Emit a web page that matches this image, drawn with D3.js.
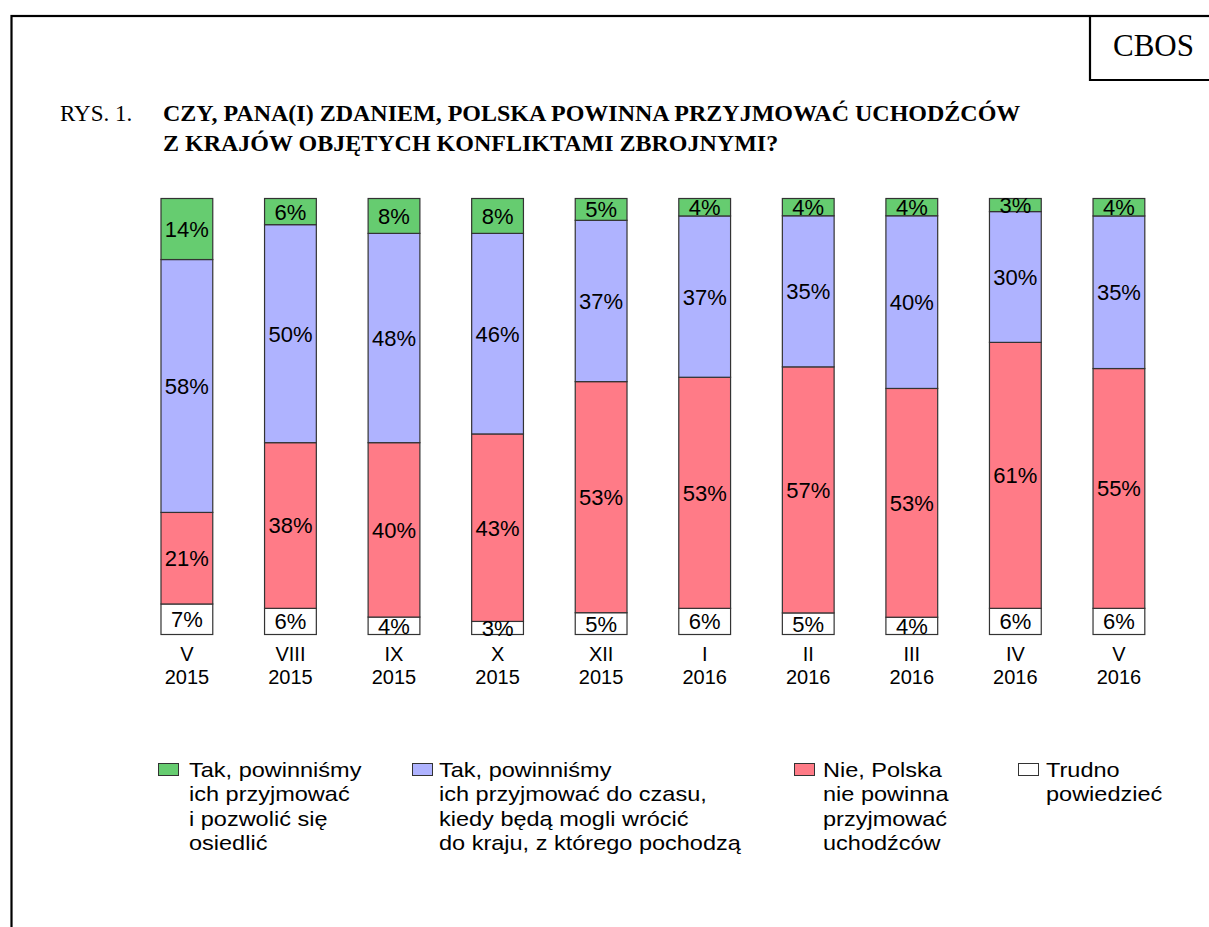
<!DOCTYPE html>
<html><head><meta charset="utf-8">
<script src="https://cdn.jsdelivr.net/npm/d3@7"></script>
<style>body{margin:0;background:#fff}svg{display:block}</style>
</head><body>
<svg id="chart" width="1209" height="927"></svg>
<script>
const months = ["V","VIII","IX","X","XII","I","II","III","IV","V"];
const years = ["2015","2015","2015","2015","2015","2016","2016","2016","2016","2016"];
const takOsiedlic = [14,6,8,8,5,4,4,4,3,4];
const takDoCzasu = [58,50,48,46,37,37,35,40,30,35];
const nie = [21,38,40,43,53,53,57,53,61,55];
const trudno = [7,6,4,3,5,6,5,4,6,6];
const seriesKeys = ["trudno","nie","doCzasu","osiedlic"];
const seriesColors = {osiedlic:"#66CC70", doCzasu:"#AFB3FF", nie:"#FF7B87", trudno:"#FFFFFF"};
const legendItems = [
  {key:"osiedlic", lines:["Tak, powinniśmy","ich przyjmować","i pozwolić się","osiedlić"]},
  {key:"doCzasu", lines:["Tak, powinniśmy","ich przyjmować do czasu,","kiedy będą mogli wrócić","do kraju, z którego pochodzą"]},
  {key:"nie", lines:["Nie, Polska","nie powinna","przyjmować","uchodźców"]},
  {key:"trudno", lines:["Trudno","powiedzieć"]}
];

const rows = months.map((m,i)=>({id:i, month:m, year:years[i],
  osiedlic:takOsiedlic[i], doCzasu:takDoCzasu[i], nie:nie[i], trudno:trudno[i]}));

const svg = d3.select("#chart");
const sans = "Arial, 'Liberation Sans', Helvetica, sans-serif";
const serif = "'Times New Roman', 'Liberation Serif', Times, serif";

// frame
svg.append("rect").attr("x",11.5).attr("y",16).attr("width",1230).attr("height",940)
  .attr("fill","none").attr("stroke","#000").attr("stroke-width",2.2);
svg.append("path").attr("d","M1090,16V80H1230").attr("fill","none").attr("stroke","#000").attr("stroke-width",2.2);
svg.append("text").attr("x",1153.5).attr("y",56).attr("text-anchor","middle")
  .attr("font-family",serif).attr("font-size",31).text("CBOS");

// title
svg.append("text").attr("x",60).attr("y",121).attr("font-family",serif).attr("font-size",23).text("RYS. 1.");
const tt = svg.append("text").attr("font-family",serif).attr("font-size",24).attr("font-weight","bold");
tt.append("tspan").attr("x",163).attr("y",121).text("CZY, PANA(I) ZDANIEM, POLSKA POWINNA PRZYJMOWAĆ UCHODŹCÓW");
tt.append("tspan").attr("x",163).attr("y",151).text("Z KRAJÓW OBJĘTYCH KONFLIKTAMI ZBROJNYMI?");

const x = d3.scaleBand().domain(rows.map(d=>d.id)).range([135.1,1170.7]).paddingInner(0.5).paddingOuter(0.25);
const y = d3.scaleLinear().domain([0,1]).range([634.5,198.5]);

const stack = d3.stack().keys(seriesKeys).offset(d3.stackOffsetExpand);
const stacked = stack(rows);

const g = svg.append("g");
stacked.forEach(s=>{
  const gs = g.append("g");
  gs.selectAll("rect").data(s).join("rect")
    .attr("x",d=>x(d.data.id)).attr("width",x.bandwidth())
    .attr("y",d=>y(d[1])).attr("height",d=>y(d[0])-y(d[1]))
    .attr("fill",seriesColors[s.key]).attr("stroke","#333").attr("stroke-width",1.2);
});
stacked.forEach(s=>{
  g.append("g").selectAll("text").data(s).join("text")
    .attr("x",d=>x(d.data.id)+x.bandwidth()/2)
    .attr("y",d=>(y(d[0])+y(d[1]))/2)
    .attr("dy","0.36em").attr("text-anchor","middle")
    .attr("font-family",sans).attr("font-size",22).attr("fill","#000")
    .text(d=>d.data[s.key]+"%");
});

// category labels via axis
const axis = d3.axisBottom(x).tickSize(0).tickPadding(0).tickFormat(()=> "");
const ax = svg.append("g").attr("transform","translate(0,634.5)").call(axis);
ax.select(".domain").remove();
ax.selectAll(".tick").each(function(id){
  const t = d3.select(this).append("text").attr("fill","#000").attr("font-family",sans).attr("font-size",20).attr("text-anchor","middle");
  t.append("tspan").attr("x",0).attr("y",26.5).text(rows[id].month);
  t.append("tspan").attr("x",0).attr("y",49.5).text(rows[id].year);
});

// legend
const legPos = [{sx:158,tx:189},{sx:412,tx:439},{sx:794,tx:823},{sx:1018,tx:1046}];
const lg = svg.append("g");
legendItems.forEach((it,i)=>{
  const p = legPos[i];
  lg.append("rect").attr("x",p.sx+0.5).attr("y",763.5).attr("width",20).attr("height",12)
    .attr("fill",seriesColors[it.key]).attr("stroke","#333").attr("stroke-width",1);
  const t = lg.append("text").attr("font-family",sans).attr("font-size",21).attr("fill","#000")
    .attr("transform",`translate(${p.tx},0) scale(1.12,1)`);
  it.lines.forEach((l,j)=>t.append("tspan").attr("x",0).attr("y",777+j*24.5).text(l));
});
</script>
</body></html>
